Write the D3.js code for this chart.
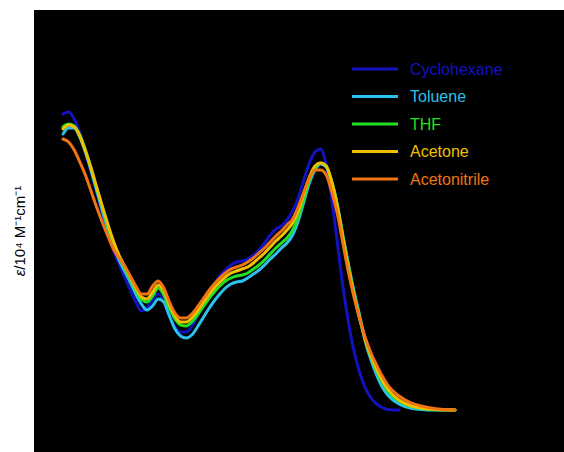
<!DOCTYPE html>
<html>
<head>
<meta charset="utf-8">
<script src="https://cdn.jsdelivr.net/npm/d3@7/dist/d3.min.js"></script>
<style>
  html, body { margin: 0; padding: 0; background: #ffffff; }
  svg { display: block; }
</style>
</head>
<body>
<div id="chart"></div>
<script>
// Wavelength grid (nm)
const wavelengths = [250,255,260,265,270,275,280,285,290,295,300,305,310,315,320,325,330,335,340,345,350,355,360,365,370,375,380,385,390,395,400,405,410,415,420,425,430,435,440,445,450,455,460,465,470,475,480,485,490,495,500,505,510,515,520,525,530,535,540,550,560,570,580,590,600];

// Series names and colours
const seriesNames = ["Cyclohexane", "Toluene", "THF", "Acetone", "Acetonitrile"];
const seriesColors = ["#1212c0", "#2cc0ec", "#22e022", "#f0c000", "#f07414"];

// Molar absorptivity, epsilon / 10^4 M^-1 cm^-1
const cyclohexane = [5.92,5.96,5.82,5.54,5.16,4.76,4.36,3.94,3.54,3.20,2.92,2.66,2.40,2.16,1.98,2.04,2.20,2.32,2.16,1.88,1.66,1.56,1.56,1.68,1.88,2.10,2.28,2.50,2.68,2.80,2.90,2.96,2.98,3.02,3.10,3.20,3.34,3.50,3.62,3.68,3.80,3.98,4.24,4.60,4.94,5.16,5.22,4.90,4.20,3.34,2.46,1.74,1.16,0.74,0.44,0.24,0.12,0.05,0.01,0.00,null,null,null,null,null];
const toluene = [5.52,5.64,5.64,5.46,5.16,4.80,4.40,4.00,3.62,3.28,3.00,2.78,2.56,2.32,2.12,2.00,2.08,2.22,2.16,1.88,1.62,1.48,1.44,1.50,1.66,1.84,2.02,2.18,2.32,2.44,2.52,2.56,2.58,2.64,2.72,2.80,2.90,3.02,3.12,3.24,3.34,3.50,3.78,4.16,4.54,4.80,4.92,4.86,4.56,4.10,3.48,2.90,2.36,1.88,1.36,1.00,0.70,0.46,0.30,0.12,0.04,0.01,0.00,0.00,0.00];
const thf = [5.66,5.72,5.68,5.50,5.20,4.84,4.44,4.06,3.68,3.34,3.06,2.84,2.62,2.40,2.22,2.16,2.28,2.44,2.30,2.04,1.82,1.70,1.68,1.76,1.90,2.06,2.22,2.36,2.48,2.58,2.64,2.68,2.70,2.74,2.82,2.90,3.00,3.12,3.24,3.34,3.44,3.60,3.86,4.22,4.60,4.84,4.94,4.88,4.56,4.08,3.46,2.86,2.30,1.82,1.40,1.06,0.78,0.56,0.38,0.18,0.08,0.03,0.01,0.00,0.00];
const acetone = [5.62,5.70,5.66,5.48,5.18,4.84,4.46,4.08,3.72,3.38,3.10,2.88,2.66,2.44,2.26,2.22,2.36,2.50,2.38,2.10,1.88,1.76,1.76,1.84,1.98,2.14,2.30,2.44,2.56,2.66,2.74,2.78,2.82,2.86,2.94,3.04,3.14,3.26,3.38,3.48,3.60,3.74,3.98,4.32,4.66,4.88,4.94,4.88,4.56,4.06,3.42,2.82,2.28,1.82,1.40,1.08,0.82,0.60,0.42,0.20,0.09,0.04,0.014,0.004,0.00];
const acetonitrile = [5.42,5.36,5.20,4.96,4.70,4.38,4.06,3.76,3.48,3.22,3.04,2.88,2.68,2.48,2.32,2.32,2.48,2.58,2.44,2.16,1.94,1.84,1.84,1.92,2.06,2.22,2.38,2.52,2.64,2.74,2.82,2.86,2.90,2.96,3.04,3.14,3.24,3.36,3.48,3.58,3.70,3.82,4.06,4.36,4.64,4.80,4.80,4.70,4.36,3.92,3.32,2.74,2.24,1.82,1.44,1.14,0.90,0.68,0.50,0.28,0.15,0.08,0.034,0.01,0.00];

const seriesValues = [cyclohexane, toluene, thf, acetone, acetonitrile];

const W = 564, H = 452;
const svg = d3.select("#chart").append("svg").attr("width", W).attr("height", H);

// Plot background
const plot = { left: 34, top: 10, right: 564, bottom: 452 };
svg.append("rect")
  .attr("x", plot.left).attr("y", plot.top)
  .attr("width", plot.right - plot.left).attr("height", plot.bottom - plot.top)
  .attr("fill", "#000000");

const x = d3.scaleLinear().domain([250, 600]).range([63, 455]);
const y = d3.scaleLinear().domain([0, 6]).range([410, 110]);

const line = d3.line()
  .defined(d => d[1] !== null)
  .x(d => x(d[0]))
  .y(d => y(d[1]))
  .curve(d3.curveMonotoneX);

seriesNames.forEach((name, i) => {
  const pts = wavelengths.map((w, j) => [w, seriesValues[i][j]]);
  svg.append("path")
    .datum(pts)
    .attr("fill", "none")
    .attr("stroke", seriesColors[i])
    .attr("stroke-width", 3)
    .attr("stroke-linejoin", "round")
    .attr("stroke-linecap", "round")
    .attr("d", line);
});

// Legend
const legend = svg.append("g").attr("transform", "translate(352,69)");
seriesNames.forEach((name, i) => {
  const g = legend.append("g").attr("transform", `translate(0,${i * 27.5})`);
  g.append("line").attr("x1", 0).attr("x2", 46).attr("y1", 0).attr("y2", 0)
    .attr("stroke", seriesColors[i]).attr("stroke-width", 3);
  g.append("text").attr("x", 58).attr("y", 0).attr("dy", "0.36em")
    .attr("fill", seriesColors[i])
    .style("font-family", "'Liberation Sans', Arial, sans-serif")
    .style("font-size", "16px")
    .text(name);
});

// Y axis label
const yl = svg.append("text")
  .attr("transform", "translate(25,231) rotate(-90)")
  .attr("text-anchor", "middle")
  .style("font-family", "'Liberation Sans', Arial, sans-serif")
  .style("font-size", "15px")
  .attr("fill", "#000");
yl.append("tspan").style("font-style", "italic").text("ε");
yl.append("tspan").text("/10⁴ M⁻¹cm⁻¹");
</script>
</body>
</html>
